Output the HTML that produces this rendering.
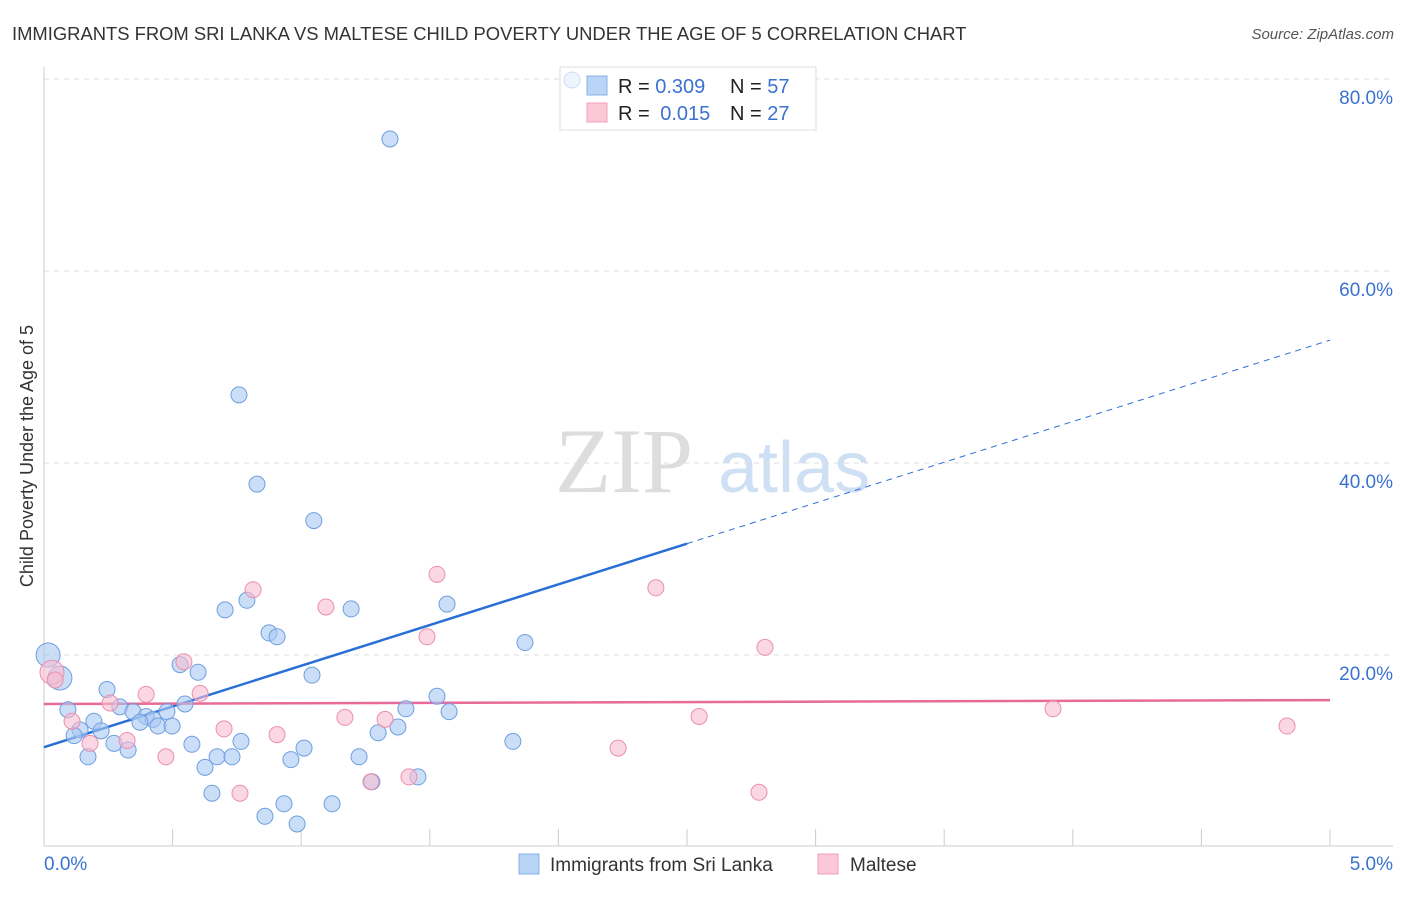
<!DOCTYPE html>
<html><head><meta charset="utf-8"><style>
body{margin:0;background:#fff;font-family:"Liberation Sans",sans-serif;}
svg text{font-family:"Liberation Sans",sans-serif;}
</style></head><body>
<svg id="chart" width="1406" height="892" viewBox="0 0 1406 892" xmlns="http://www.w3.org/2000/svg">
<text x="12" y="40" font-size="18.4" fill="#333">IMMIGRANTS FROM SRI LANKA VS MALTESE CHILD POVERTY UNDER THE AGE OF 5 CORRELATION CHART</text>
<text x="1394" y="39" font-size="15" fill="#555" font-style="italic" text-anchor="end">Source: ZipAtlas.com</text>
<g>
<text x="555" y="492" font-size="92" fill="#ddd" font-family="Liberation Serif" style="font-family:'Liberation Serif',serif">ZIP</text>
<text x="718" y="492" font-size="72" fill="#d0e0f4">atlas</text>
</g>
<g id="grid"></g>
<g id="axes"></g>
<text transform="translate(33,456) rotate(-90)" font-size="18" fill="#333" text-anchor="middle">Child Poverty Under the Age of 5</text>
<g id="lines"></g>
<g>
<rect x="560" y="67" width="256" height="63" fill="#fff" stroke="#ddd"/>
<rect x="587" y="76" width="20" height="19" fill="#b8d4f6" stroke="#88b0e6"/>
<rect x="587" y="103" width="20" height="19" fill="#fcc8d8" stroke="#f0a0bc"/>
<text x="618" y="93" font-size="20" fill="#222">R = <tspan fill="#3a72d0">0.309</tspan></text>
<text x="730" y="93" font-size="20" fill="#222">N = <tspan fill="#3a72d0">57</tspan></text>
<text x="618" y="120" font-size="20" fill="#222">R = <tspan fill="#3a72d0" dx="5">0.015</tspan></text>
<text x="730" y="120" font-size="20" fill="#222">N = <tspan fill="#3a72d0">27</tspan></text>
</g>
<g id="points"></g>
<g>
<rect x="519" y="854" width="20" height="20" fill="#b8d4f6" stroke="#88b0e6"/>
<text x="550" y="871" font-size="19" fill="#333">Immigrants from Sri Lanka</text>
<rect x="818" y="854" width="20" height="20" fill="#fcc8d8" stroke="#f0a0bc"/>
<text x="850" y="871" font-size="19" fill="#333">Maltese</text>
</g>
</svg>
<script>
const xTicks=[0,0.5,1,1.5,2,2.5,3,3.5,4,4.5,5];
const yTicks=[20,40,60,80];
const yTickLabels=["20.0%","40.0%","60.0%","80.0%"];
const xTickLabels=["0.0%","5.0%"];
const blueX=[2.053,1.345,0.758,0.828,1.049,0.704,0.789,1.194,1.567,0.875,0.906,1.870,0.529,0.599,1.042,0.016,0.062,0.245,0.295,0.548,0.093,0.346,0.478,0.397,0.424,0.194,0.373,0.443,0.498,0.140,0.222,0.117,0.272,0.327,0.575,0.766,0.171,0.673,0.731,1.011,1.225,1.299,1.376,1.407,1.528,1.575,1.823,0.626,0.960,1.454,1.275,0.653,0.933,1.120,0.859,0.984];
const blueY=[79.9,73.75,47.1,37.8,34.0,24.7,25.7,24.8,25.3,22.3,21.9,21.3,19.0,18.2,17.9,20.0,17.6,16.4,14.6,14.9,14.3,14.1,14.1,13.6,13.3,13.1,13.0,12.6,12.6,12.2,12.1,11.6,10.8,10.1,10.7,11.0,9.4,9.4,9.4,10.3,9.4,11.9,12.5,14.4,15.7,14.1,11.0,8.3,9.1,7.3,6.8,5.6,4.5,4.5,3.2,2.4];
const blueBig=[15,16];
const pinkX=[0.031,0.043,0.109,0.179,0.257,0.323,0.397,0.474,0.544,0.607,0.700,0.762,0.813,0.906,1.096,1.170,1.271,1.326,1.419,1.489,1.528,2.232,2.379,2.547,2.780,2.803,3.923,4.833];
const pinkY=[18.2,17.4,13.1,10.8,15.0,11.1,15.9,9.4,19.3,16.0,12.3,5.6,26.8,11.7,25.0,13.5,6.8,13.3,7.3,21.9,28.4,10.3,27.0,13.6,5.7,20.8,14.4,12.6];
const pinkBig=[0];
const blueTrend=[10.4,52.8];
const blueSolidEnd=2.5;
const pinkTrend=[14.9,15.3];

const NS="http://www.w3.org/2000/svg";
const X=v=>44+v*257.2;
const Y=v=>847-v*9.6;
function mk(tag,attrs,parent){const e=document.createElementNS(NS,tag);for(const k in attrs)e.setAttribute(k,attrs[k]);parent.appendChild(e);return e;}
const grid=document.getElementById('grid'),axes=document.getElementById('axes'),lines=document.getElementById('lines'),pts=document.getElementById('points');
yTicks.forEach((t,i)=>{
  const l=mk('line',{x1:44,x2:1393,y1:Y(t),y2:Y(t),stroke:'#ddd','stroke-dasharray':'5,5'},grid);
  
  
  const tx=mk('text',{x:1393,y:Y(t)+25,'font-size':19,fill:'#3a72d0','text-anchor':'end'},axes);
  tx.textContent=yTickLabels[i];
  
  
});
mk('line',{x1:44,x2:44,y1:67,y2:846,stroke:'#ccc'},axes);
mk('line',{x1:44,x2:1393,y1:846,y2:846,stroke:'#ccc'},axes);
xTicks.forEach(t=>{
  const l=mk('line',{x1:X(t),x2:X(t),y1:829,y2:846,stroke:'#ccc'},axes);
  
  
});
[[0,44,'start'],[5,1393,'end']].forEach((a,i)=>{
  const tx=mk('text',{x:a[1],y:870,'font-size':19,fill:'#3a72d0','text-anchor':a[2]},axes);
  tx.textContent=xTickLabels[i];
  
  
});
function drawPts(xs,ys,big,fill,stroke,name){
  xs.forEach((x,i)=>{
    const top=ys[i]>78;
    const c=mk('circle',{cx:X(x),cy:Y(ys[i]),r:big.includes(i)?12:8,fill:fill,'fill-opacity':top?0.2:0.6,stroke:stroke,'stroke-opacity':top?0.3:1,'stroke-width':1},pts);
    
    
  });
}
drawPts(blueX,blueY,blueBig,'#a8c8f2','#6e9fe0','point-sri-lanka');
drawPts(pinkX,pinkY,pinkBig,'#f8bcd0','#ea8fb0','point-maltese');
const by=x=>blueTrend[0]+(blueTrend[1]-blueTrend[0])*x/5;
const l1=mk('line',{x1:X(0),y1:Y(by(0)),x2:X(blueSolidEnd),y2:Y(by(blueSolidEnd)),stroke:'#2a6fd6','stroke-width':2.5},lines);


const l2=mk('line',{x1:X(blueSolidEnd),y1:Y(by(blueSolidEnd)),x2:X(5),y2:Y(by(5)),stroke:'#2a6fd6','stroke-width':1,'stroke-dasharray':'6,5'},lines);


const l3=mk('line',{x1:X(0),y1:Y(pinkTrend[0]),x2:X(5),y2:Y(pinkTrend[1]),stroke:'#e86a98','stroke-width':2.5},lines);


</script>
</body></html>
